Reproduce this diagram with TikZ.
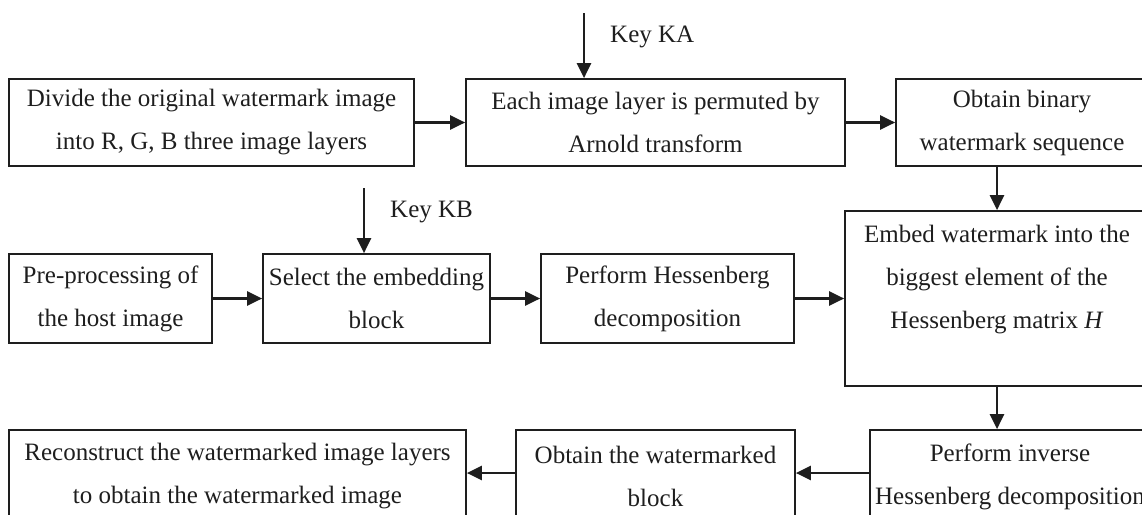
\documentclass[tikz,border=0pt]{standalone}
\usepackage{fontspec}
\setmainfont{Liberation Serif}
\usetikzlibrary{arrows.meta}
\definecolor{ink}{HTML}{1E1E1E}
\tikzset{
  box/.style={draw=ink, line width=1.7pt, inner sep=0pt, align=center, text=ink,
    font=\fontsize{25}{43}\selectfont},
  conn/.style={draw=ink, line width=2.4pt, -{Triangle[length=15pt,width=14pt]}},
  keylabel/.style={anchor=west, text=ink, font=\fontsize{25}{30}\selectfont, inner sep=0pt}
}
\begin{document}
\begin{tikzpicture}[x=1pt,y=-1pt]
\useasboundingbox (0,0) rectangle (1142,514);
\clip (0,0) rectangle (1142,514);
% row 1
\node[box, minimum width=405pt, minimum height=87pt] (a) at (211.5,122.5)
  {Divide the original watermark image\\into R, G, B three image layers};
\node[box, minimum width=379pt, minimum height=87pt] (b) at (655.5,122.5)
  {Each image layer is permuted by\\Arnold transform};
\node[box, minimum width=252pt, minimum height=87pt] (c) at (1022,122.5)
  {Obtain binary\\watermark sequence};
% row 2
\node[box, minimum width=203pt, minimum height=89pt] (pre) at (110.5,298.5)
  {Pre-processing of\\the host image};
\node[box, minimum width=227pt, minimum height=89pt] (sel) at (376.5,298.5)
  {Select the embedding\\block};
\node[box, minimum width=253pt, minimum height=89pt] (hes) at (667.5,298.5)
  {Perform Hessenberg\\decomposition};
\node[box, minimum width=304pt, minimum height=175pt] (emb) at (997,298.5)
  {Embed watermark into the\\biggest element of the\\Hessenberg matrix \textit{H}\\\mbox{}};
% row 3
\node[box, minimum width=457pt, minimum height=93pt] (rec) at (237.5,476.5)
  {Reconstruct the watermarked image layers\\to obtain the watermarked image};
\node[box, minimum width=279pt, minimum height=93pt] (obt) at (655.5,476.5)
  {Obtain the watermarked\\block};
\node[box, minimum width=280pt, minimum height=93pt] (inv) at (1010,476.5)
  {Perform inverse\\Hessenberg decomposition};
% keys
\coordinate (ka) at (584,13);
\coordinate (kb) at (364,188);
\node[keylabel] (kat) at (610,37) {Key KA};
\node[keylabel] (kbt) at (390,212) {Key KB};
% connectors
\draw[conn] (ka) -- (ka |- b.north);
\draw[conn] (kb) -- (kb |- sel.north);
\draw[conn] (a.east) -- (b.west);
\draw[conn] (b.east) -- (c.west);
\draw[conn] (c.south -| 997,0) -- (emb.north);
\draw[conn] (pre.east) -- (sel.west);
\draw[conn] (sel.east) -- (hes.west);
\draw[conn] (hes.east) -- (hes.east -| emb.west);
\draw[conn] (emb.south) -- (emb.south |- inv.north);
\draw[conn] (inv.west |- 0,473) -- (obt.east |- 0,473);
\draw[conn] (obt.west |- 0,473) -- (rec.east |- 0,473);
\end{tikzpicture}
\end{document}
